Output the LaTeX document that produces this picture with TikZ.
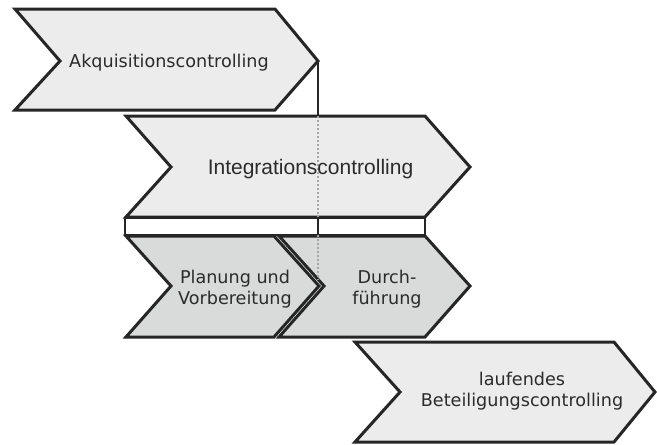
\documentclass[tikz,border=0pt]{standalone}
\usepackage{fontspec}
\newfontfamily\vfont{DejaVu Sans}
\newfontfamily\afont{Liberation Sans}
\definecolor{edge}{HTML}{262626}
\definecolor{lightfill}{HTML}{ECECEC}
\definecolor{darkfill}{HTML}{D9DADA}
\definecolor{txt}{HTML}{2B2B2B}
\definecolor{dots}{HTML}{A6A6A6}
\tikzset{
  chev/.style={draw=edge, line width=3pt, line join=miter, fill=lightfill},
  subchev/.style={chev, fill=darkfill},
  barbox/.style={draw=edge, line width=2pt, fill=white},
  lbl/.style={text=txt, font=\vfont\fontsize{17.6}{21.5}\selectfont, align=center, inner sep=0pt},
  biglbl/.style={text=txt, font=\afont\fontsize{21}{25}\selectfont, inner sep=0pt},
  link/.style={draw=edge, line width=2pt},
  guide/.style={draw=dots, line width=1.8pt, dash pattern=on 2pt off 2pt},
}
\begin{document}
\begin{tikzpicture}[x=1pt, y=-1pt]
  \useasboundingbox (0,0) rectangle (657,445);

  % phase 1: acquisition
  \draw[chev] (15,9) -- (275,9) -- (318,61) coordinate (akq-tip) -- (275,110) -- (15,110) -- (60,61) -- cycle;
  \node[lbl, anchor=base] (akq) at (169,67) {Akquisitionscontrolling};

  % phase 2: integration
  \coordinate (int-top) at (318,116);
  \draw[link] (akq-tip) -- (int-top);
  \draw[chev] (126,116) -- (425,116) -- (470,167) -- (425,217) -- (126,217) -- (171,167) -- cycle;
  \coordinate (int-bottom) at (318,217);
  \draw[guide] (int-top) -- (int-bottom);
  \node[biglbl, anchor=base] (int) at (310.5,174) {Integrationscontrolling};

  % bar splitting integration into its two steps
  \draw[barbox] (125,218) rectangle (425,235);
  \coordinate (bar-top) at (318,218);
  \coordinate (bar-bottom) at (318,235);
  \draw[link] (bar-top) -- (bar-bottom);

  % integration steps (separated by a thin gap)
  \draw[subchev] (126,236) -- (274,236) -- (319,286) -- (274,337) -- (126,337) -- (171,286) -- cycle;
  \draw[subchev] (279,236) -- (425,236) -- (470,286) -- (425,337) -- (279,337) -- (324,286) -- cycle;
  \coordinate (plan-edge) at (318,280);
  \draw[guide] (bar-bottom) -- (plan-edge);
  \node[lbl] (plan) at (235,289) {Planung und\\Vorbereitung};
  \node[lbl] (durch) at (387,289) {Durch-\\führung};

  % phase 3: ongoing controlling
  \draw[chev] (355,342) -- (614,342) -- (655,392) -- (614,442) -- (355,442) -- (400,392) -- cycle;
  \node[lbl] (lauf) at (522,391) {laufendes\\Beteiligungscontrolling};
\end{tikzpicture}
\end{document}
